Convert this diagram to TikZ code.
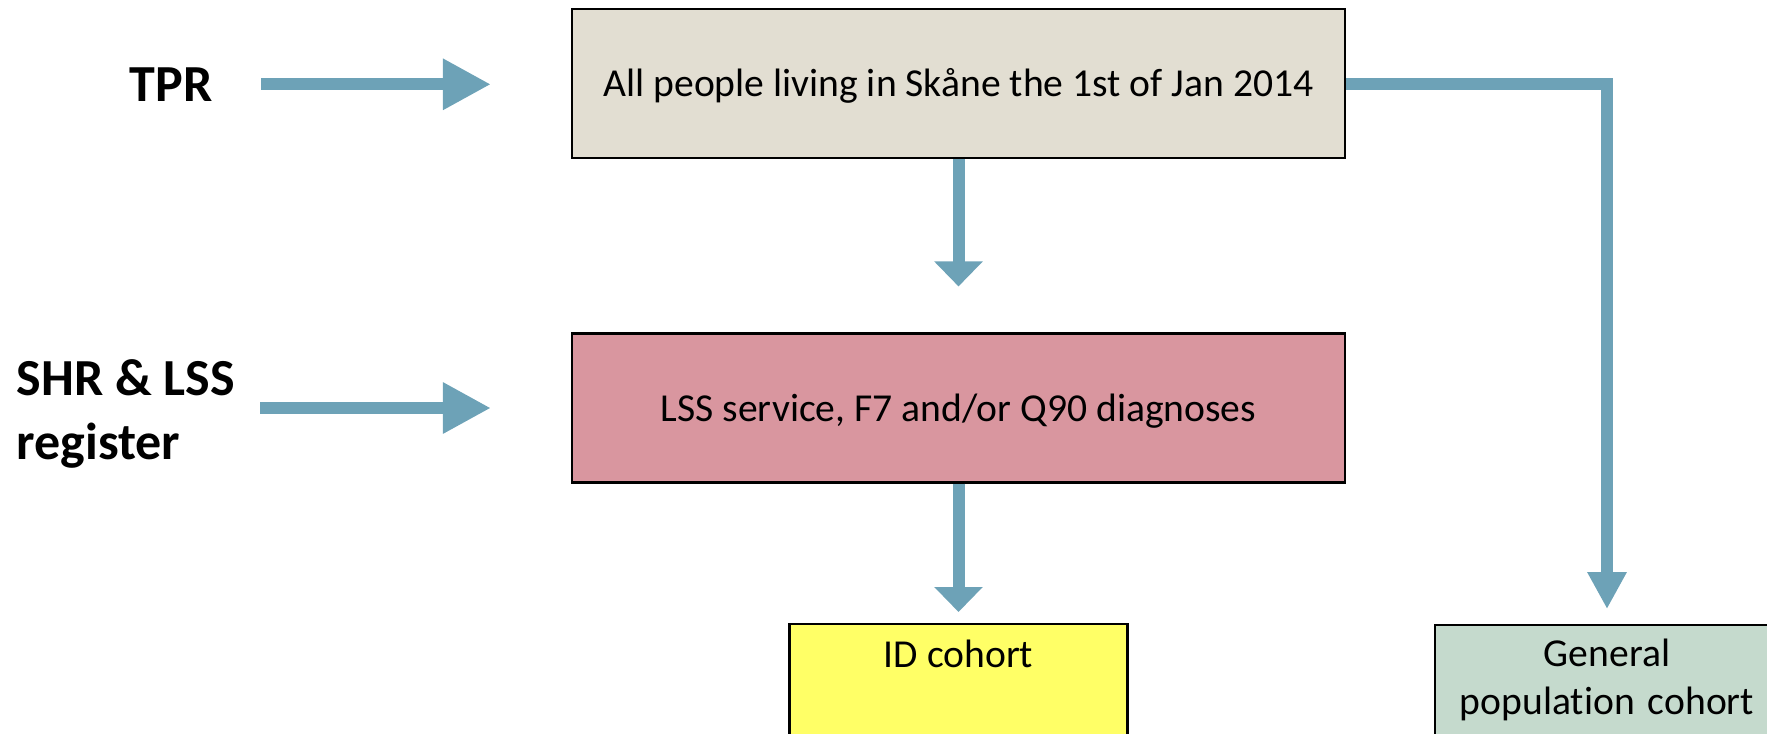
\documentclass[tikz,border=0pt]{standalone}
\usepackage{fontspec}
\setmainfont{Carlito}[Ligatures=NoCommon]
\usepackage{tikz}
\usetikzlibrary{arrows.meta,positioning}
\definecolor{flowblue}{RGB}{109,162,183}
\definecolor{popfill}{RGB}{226,222,210}
\definecolor{lssfill}{RGB}{217,150,159}
\definecolor{idfill}{RGB}{255,255,102}
\definecolor{gpfill}{RGB}{197,218,205}
\tikzstyle{cohort} = [draw, rectangle, line width=0.6pt, minimum width=7.73cm,
    minimum height=1.49cm, text height=0.33cm, text depth=0.07cm,
    font=\fontsize{11.27}{13.7}\selectfont]
\tikzstyle{source} = [inner sep=0pt, font=\bfseries\fontsize{14.8}{18.2}\selectfont]
\tikzstyle{flow} = [draw=flowblue, line width=0.12cm,
    -{Triangle[length=0.48cm,width=0.48cm]}]
\tikzstyle{flowdown} = [flow, -{Triangle[length=0.25cm,width=0.47cm]}]

\begin{document}
\begin{tikzpicture}[node distance = 3.245cm, auto]
  \useasboundingbox (0,0) rectangle (17.67,-7.33);
  \clip (0,0) rectangle (17.67,-7.33);
  \node [cohort, fill=popfill] (pop) at (9.585,-0.835)
  {All people living in Skåne the 1st of Jan 2014};
  \node [cohort, fill=lssfill, below of=pop] (lss)
  {LSS service, F7 and/or Q90 diagnoses};
  \node [cohort, fill=idfill, minimum width=3.38cm, minimum height=0pt,
    text height=0.235cm, text depth=1.2cm, inner ysep=0.2cm, anchor=north]
    (idc) at (9.585,-6.23) {ID cohort};
  \node [cohort, fill=gpfill, minimum width=3.38cm, minimum height=0pt,
    text width=3.2cm, align=center, text height=0.215cm, text depth=1.2cm,
    inner ysep=0.2cm, anchor=north] (gpc) at (16.07,-6.24)
  {General\\population cohort};
  \node [source] (tpr) at (1.71,-0.843) {TPR};
  \node [source, align=left, anchor=west] (shr) at (0.16,-4.135)
  {SHR \& LSS\\register};
  \draw [flow, shorten <=0.48cm, shorten >=0.8cm] (tpr.east) -- (tpr.east -| pop.west);
  \draw [flow, shorten <=0.25cm, shorten >=0.8cm] (shr.east |- lss.west) -- (lss.west);
  \draw [flowdown, shorten >=0.46cm] (pop) -- (lss);
  \draw [flowdown, shorten >=0.11cm] (lss) -- (idc);
  \draw [flow, -{Triangle[length=0.37cm,width=0.37cm]}, shorten >=0.15cm]
    (pop.east) -| (gpc.north);
\end{tikzpicture}
\end{document}
